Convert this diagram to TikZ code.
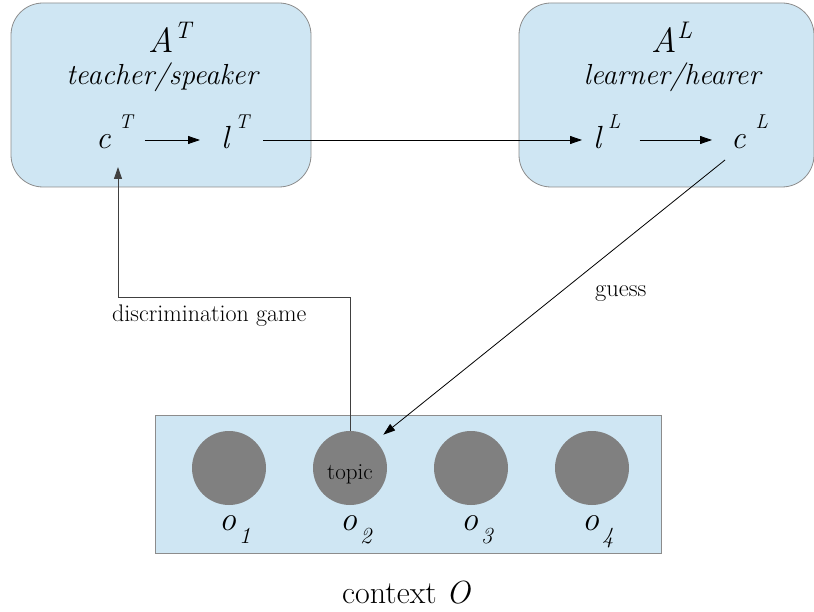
\documentclass[tikz,border=0pt]{standalone}
\usepackage{fontspec}
\usetikzlibrary{arrows.meta,calc}

\definecolor{panel}{HTML}{CFE6F3}
\definecolor{rim}{HTML}{8C8C8C}
\definecolor{disc}{HTML}{808080}
\definecolor{wire}{HTML}{404040}

\newcommand{\fs}[1]{\fontsize{#1}{#1}\selectfont}
% symbol with a detached italic superscript, e.g. c  T
\newcommand{\agentsym}[3]{{\itshape #1}\hspace{#3}\raisebox{20pt}{\fs{20}\itshape #2}}

\tikzset{
  agentbox/.style={draw=rim, fill=panel, line width=0.8pt, rounded corners=32pt,
    minimum width=300pt, minimum height=184pt, inner sep=0pt},
  ctxbox/.style={draw=rim, fill=panel, line width=0.8pt,
    minimum width=506pt, minimum height=138pt, inner sep=0pt},
  obj/.style={circle, fill=disc, minimum size=74pt, inner sep=0pt},
  txt/.style={inner sep=0pt, anchor=base west},
  ctr/.style={inner sep=0pt, anchor=base},
  arr/.style={-{Triangle[length=12pt,width=8pt]}, line width=0.8pt, black},
}

\begin{document}
\begin{tikzpicture}[x=1pt,y=-1pt]
\useasboundingbox (0,0) rectangle (814,612);

% agents
\node[agentbox] (teacher) at (161,95) {};
\node[agentbox, minimum width=295pt] (learner) at (666.5,95) {};

\node[ctr] (AT) at (170,53) {\fs{35}\itshape A\raisebox{14pt}{\fs{24}T}};
\node[ctr] (tsp) at (162,85) {\fs{29}\itshape teacher/speaker};
\node[ctr] (AL) at (672,53) {\fs{35}\itshape A\raisebox{14pt}{\fs{24}L}};
\node[ctr] (lhe) at (672,85) {\fs{29}\itshape learner/hearer};

\node[txt] (cT) at (96,149) {\fs{32}\agentsym{c}{T}{8pt}};
\node[txt] (lT) at (221,149) {\fs{32}\agentsym{l}{T}{6pt}};
\node[txt] (lL) at (593,149) {\fs{32}\agentsym{l}{L}{7pt}};
\node[txt] (cL) at (731,149) {\fs{32}\agentsym{c}{L}{10pt}};

\draw[arr] ([xshift=12pt,yshift=9pt]cT.base east) -- ([xshift=-21pt,yshift=9pt]lT.base west);
\draw[arr] ([xshift=14pt,yshift=9pt]lT.base east) -- ([xshift=-11pt,yshift=9pt]lL.base west);
\draw[arr] ([xshift=19pt,yshift=9pt]lL.base east) -- ([xshift=-19pt,yshift=9pt]cL.base west);

% context
\node[ctxbox] (ctx) at (408,484) {};
\node[obj] (o1) at (229,468) {};
\node[obj] (o2) at (350,468) {};
\node[obj] (o3) at (471,468) {};
\node[obj] (o4) at (592,468) {};
\node[ctr] (topic) at (350,479) {\fs{23}topic};

\foreach \i/\x in {1/219,2/340,3/461,4/582}{
  \node[txt] (lab\i) at (\x,530) {\fs{34}\itshape o\raisebox{-13pt}{\fs{23}\hspace{3pt}\i}};
}

\node[txt] (ctxlab) at (342,603) {\fs{32}context \itshape O};

% discrimination game: topic up to the teacher's concept
\coordinate (turn) at (118,298);
\coordinate (cTin) at (118,167);
\draw[arr, draw=wire, line width=1pt] (o2.north) |- (turn) -- (cTin);
\node[txt] (dg) at (112,322) {\fs{24}discrimination game};

% guess: learner's concept back to the topic
\coordinate (gstart) at (725,160);
\draw[arr] (gstart) -- ([shift={(7pt,7pt)}]o2.north east);
\node[txt] (gs) at (595,297) {\fs{24.5}guess};

\end{tikzpicture}
\end{document}
